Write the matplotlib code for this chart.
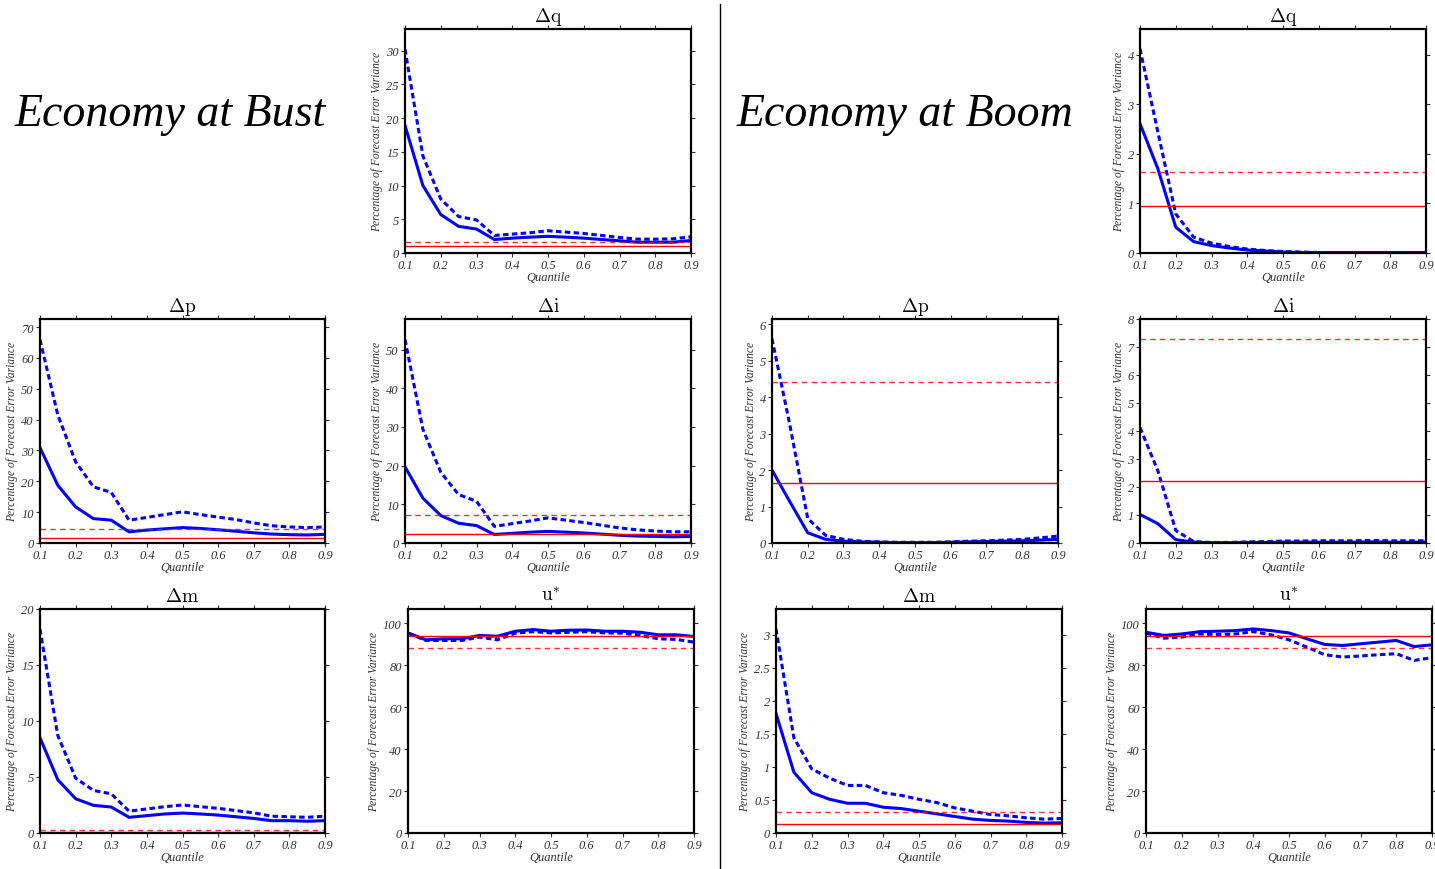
import matplotlib
matplotlib.use('Agg')
import matplotlib.pyplot as plt
from matplotlib.ticker import FormatStrFormatter, MultipleLocator

plt.rcParams['font.family'] = ['Liberation Serif', 'DejaVu Serif']
plt.rcParams['font.style'] = 'italic'
plt.rcParams['mathtext.fontset'] = 'cm'

quantiles = [0.1, 0.15, 0.2, 0.25, 0.3, 0.35, 0.4, 0.45, 0.5,
             0.55, 0.6, 0.65, 0.7, 0.75, 0.8, 0.85, 0.9]

# Economy at bust: solid = point estimate, dashed = upper band
bust_dq_solid = [18.9, 10.0, 5.7, 3.95, 3.55, 2.0, 2.2, 2.35, 2.47, 2.35, 2.2, 2.0, 1.8, 1.6, 1.6, 1.6, 1.85]
bust_dq_dash = [30.2, 14.4, 8.0, 5.4, 4.9, 2.6, 2.8, 3.0, 3.3, 3.1, 2.9, 2.6, 2.3, 2.05, 2.05, 2.1, 2.4]
bust_dp_solid = [30.9, 18.7, 11.7, 7.9, 7.4, 3.6, 4.2, 4.6, 5.0, 4.7, 4.3, 3.8, 3.3, 2.9, 2.7, 2.6, 2.8]
bust_dp_dash = [65.9, 41.5, 26.3, 18.2, 16.4, 7.4, 8.3, 9.2, 10.1, 9.2, 8.4, 7.6, 6.5, 5.6, 5.2, 5.0, 5.2]
bust_di_solid = [19.7, 11.6, 7.1, 5.1, 4.5, 2.2, 2.5, 2.8, 3.0, 2.8, 2.6, 2.3, 2.0, 1.8, 1.7, 1.6, 1.7]
bust_di_dash = [52.6, 29.4, 18.3, 12.5, 10.8, 4.3, 5.0, 5.7, 6.5, 5.9, 5.3, 4.6, 3.9, 3.4, 3.1, 2.9, 2.9]
bust_dm_solid = [8.5, 4.75, 3.06, 2.47, 2.32, 1.4, 1.55, 1.7, 1.78, 1.7, 1.6, 1.45, 1.3, 1.1, 1.1, 1.05, 1.1]
bust_dm_dash = [18.2, 8.7, 4.9, 3.8, 3.5, 1.95, 2.15, 2.35, 2.5, 2.35, 2.2, 2.0, 1.8, 1.5, 1.45, 1.4, 1.5]
bust_u_solid = [95.4, 92.1, 92.6, 92.6, 94.2, 93.8, 96.2, 97.0, 96.2, 96.7, 96.8, 96.2, 96.2, 95.7, 94.5, 94.5, 93.7]
bust_u_dash = [95.3, 91.8, 91.8, 91.8, 93.4, 92.1, 95.3, 96.0, 95.4, 95.7, 96.0, 95.4, 95.3, 94.2, 92.6, 92.3, 91.0]

# Economy at boom
boom_dq_solid = [2.61, 1.7, 0.52, 0.23, 0.15, 0.1, 0.06, 0.04, 0.02, 0.01, 0.01, 0.01, 0.01, 0.01, 0.01, 0.01, 0.01]
boom_dq_dash = [4.12, 2.44, 0.79, 0.32, 0.2, 0.13, 0.08, 0.05, 0.03, 0.02, 0.01, 0.01, 0.01, 0.01, 0.01, 0.01, 0.01]
boom_dp_solid = [2.0, 1.13, 0.28, 0.1, 0.05, 0.03, 0.02, 0.01, 0.01, 0.01, 0.02, 0.03, 0.04, 0.05, 0.06, 0.08, 0.1]
boom_dp_dash = [5.6, 3.23, 0.67, 0.21, 0.1, 0.05, 0.03, 0.02, 0.02, 0.02, 0.03, 0.05, 0.06, 0.08, 0.1, 0.14, 0.19]
boom_di_solid = [1.02, 0.69, 0.12, 0.03, 0.01, 0.01, 0.02, 0.02, 0.03, 0.03, 0.03, 0.03, 0.03, 0.04, 0.03, 0.03, 0.03]
boom_di_dash = [4.12, 2.58, 0.45, 0.05, 0.02, 0.02, 0.04, 0.05, 0.07, 0.07, 0.08, 0.08, 0.08, 0.09, 0.08, 0.08, 0.08]
boom_dm_solid = [1.81, 0.92, 0.61, 0.51, 0.45, 0.45, 0.39, 0.37, 0.33, 0.29, 0.25, 0.21, 0.19, 0.18, 0.16, 0.15, 0.155]
boom_dm_dash = [3.09, 1.44, 0.97, 0.83, 0.72, 0.72, 0.61, 0.57, 0.51, 0.46, 0.38, 0.33, 0.28, 0.26, 0.23, 0.21, 0.22]
boom_u_solid = [95.7, 94.2, 94.9, 96.0, 96.2, 96.5, 97.3, 96.5, 95.4, 92.6, 89.9, 89.4, 90.2, 91.0, 91.8, 88.9, 89.7]
boom_u_dash = [95.3, 92.9, 93.4, 94.9, 94.6, 94.9, 96.0, 94.5, 92.1, 88.6, 85.0, 83.9, 84.4, 85.0, 85.5, 82.3, 83.6]

# Linear benchmark shares (solid / dashed red reference lines)
bust_ref = {'dq': (1.0, 1.7), 'dp': (1.6, 4.6), 'di': (2.2, 7.2), 'dm': (0.1, 0.3), 'u': (93.8, 88.3)}
boom_ref = {'dq': (0.94, 1.63), 'dp': (1.65, 4.4), 'di': (2.23, 7.29), 'dm': (0.13, 0.32), 'u': (93.8, 88.3)}

titles = {'dq': r'$\Delta\mathrm{q}$', 'dp': r'$\Delta\mathrm{p}$', 'di': r'$\Delta\mathrm{i}$',
          'dm': r'$\Delta\mathrm{m}$', 'u': r'$\mathrm{u}^{*}$'}

W, H = 1435, 870


def add_panel(fig, box, key, solid, dash, ref, ymax, ystep, fmt='%g'):
    left, top, right, bottom = box
    ax = fig.add_axes([left / W, 1 - bottom / H, (right - left) / W, (bottom - top) / H])
    ax.plot(quantiles, solid, color='blue', lw=2.2, solid_joinstyle='round')
    ax.plot(quantiles, dash, color='blue', lw=2.2, linestyle=(0, (1.8, 1.1)))
    ax.axhline(ref[0], color='red', lw=1.0)
    ax.axhline(ref[1], color='red', lw=1.0, linestyle=(0, (4, 3)), alpha=0.8)
    ax.set_xlim(0.1, 0.9)
    ax.set_ylim(0, ymax)
    ax.xaxis.set_major_locator(MultipleLocator(0.1))
    ax.yaxis.set_major_locator(MultipleLocator(ystep))
    ax.xaxis.set_major_formatter(FormatStrFormatter('%g'))
    ax.yaxis.set_major_formatter(FormatStrFormatter(fmt))
    ax.tick_params(direction='out', top=True, right=True, length=3, width=0.8,
                   labelsize=9, pad=1.5, colors='#333333', labelcolor='#333333')
    for sp in ax.spines.values():
        sp.set_linewidth(1.6)
    ax.set_title(titles[key], fontsize=14, pad=6)
    ax.set_xlabel('Quantile', fontsize=9, labelpad=0, color='#333333')
    ax.set_ylabel('Percentage of Forecast Error Variance', fontsize=8.3,
                  labelpad=2, color='#333333')
    return ax


fig = plt.figure(figsize=(W / 100, H / 100), dpi=100)

# Left half: bust
add_panel(fig, (405, 30, 691, 254), 'dq', bust_dq_solid, bust_dq_dash, bust_ref['dq'], 33.2, 5)
add_panel(fig, (40, 320, 325, 544), 'dp', bust_dp_solid, bust_dp_dash, bust_ref['dp'], 72.6, 10)
add_panel(fig, (405, 320, 691, 544), 'di', bust_di_solid, bust_di_dash, bust_ref['di'], 57.9, 10)
add_panel(fig, (40, 610, 325, 834), 'dm', bust_dm_solid, bust_dm_dash, bust_ref['dm'], 20.0, 5)
add_panel(fig, (408, 610, 694, 834), 'u', bust_u_solid, bust_u_dash, bust_ref['u'], 106.8, 20)

# Right half: boom
add_panel(fig, (1140, 30, 1426, 254), 'dq', boom_dq_solid, boom_dq_dash, boom_ref['dq'], 4.52, 1)
add_panel(fig, (772, 320, 1058, 544), 'dp', boom_dp_solid, boom_dp_dash, boom_ref['dp'], 6.14, 1)
add_panel(fig, (1140, 320, 1426, 544), 'di', boom_di_solid, boom_di_dash, boom_ref['di'], 8.0, 1)
add_panel(fig, (776, 610, 1062, 834), 'dm', boom_dm_solid, boom_dm_dash, boom_ref['dm'], 3.39, 0.5)
add_panel(fig, (1146, 610, 1432, 834), 'u', boom_u_solid, boom_u_dash, boom_ref['u'], 106.8, 20)

fig.text(170 / W, 1 - 115 / H, 'Economy at Bust', fontsize=33,
         ha='center', va='center')
fig.text(905 / W, 1 - 115 / H, 'Economy at Boom', fontsize=33,
         ha='center', va='center')

# divider between the two regimes
fig.add_artist(plt.Line2D([720 / W, 720 / W], [0, 1 - 5 / H], color='black', lw=1.0))

fig.savefig('out.png', dpi=100)
